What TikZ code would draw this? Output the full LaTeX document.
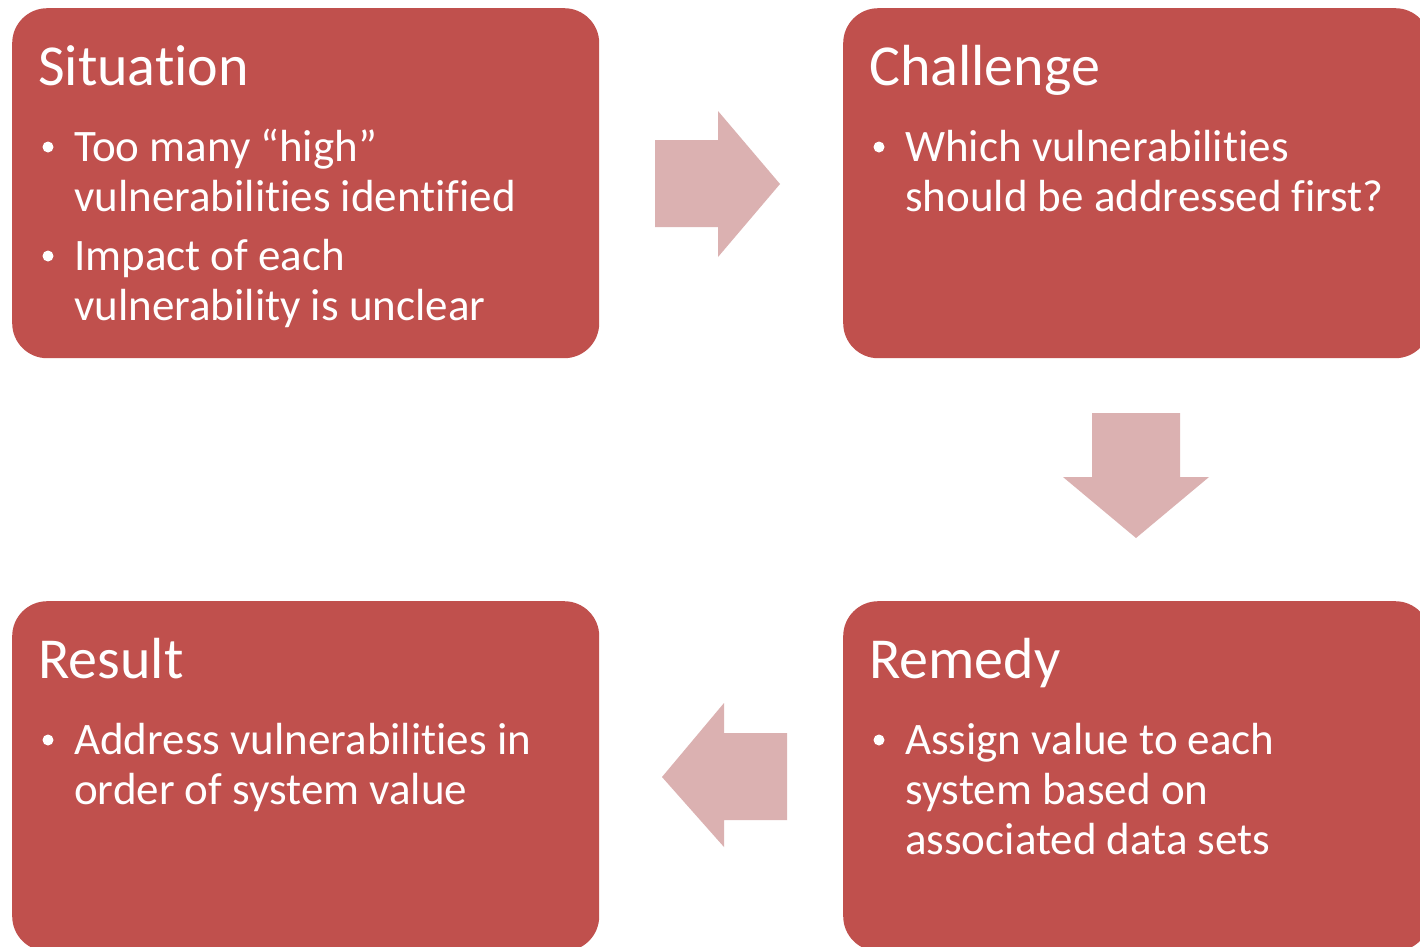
\documentclass[tikz,border=0pt]{standalone}
\usepackage{fontspec}
\setmainfont{Carlito}[Ligatures=NoCommon]

\definecolor{panelred}{HTML}{C0504D}
\definecolor{arrowpink}{RGB}{219,177,177}

\tikzset{
  panel/.style={fill=panelred, rounded corners=35pt, minimum width=587pt,
    minimum height=350pt, inner sep=0pt, anchor=north west},
  heading/.style={text=white, font=\fontsize{58}{70}\selectfont,
    anchor=base west, inner sep=0pt},
  % base anchor of a multi-line node sits on its last line
  item/.style={text=white, font=\fontsize{45}{50}\selectfont,
    align=left, anchor=base west, inner sep=0pt},
  dot/.style={circle, fill=white, minimum size=11pt, inner sep=0pt},
  blockarrow/.style={fill=arrowpink}
}

\begin{document}
\begin{tikzpicture}[x=1pt, y=-1pt]
    \useasboundingbox [fill=white] (0, 0) rectangle (1420, 946);

    % the four panels
    \node [panel] (situation) at (12, 8) {};
    \node [panel] (challenge) at (843, 8) {};
    \node [panel] (result) at (12, 601) {};
    \node [panel] (remedy) at (843, 601) {};

    % situation
    \node [heading] (sithead) at ([shift={(26, 77)}]situation.north west) {Situation};
    \node [dot] (sitdota) at ([shift={(36, 139)}]situation.north west) {};
    \node [item] (sititema) at ([shift={(62, 203)}]situation.north west)
      {Too many “high”\\vulnerabilities identified};
    \node [dot] (sitdotb) at ([shift={(36, 248)}]situation.north west) {};
    \node [item] (sititemb) at ([shift={(62, 312)}]situation.north west)
      {Impact of each\\vulnerability is unclear};

    % challenge
    \node [heading] (chahead) at ([shift={(26, 77)}]challenge.north west) {Challenge};
    \node [dot] (chadot) at ([shift={(36, 139)}]challenge.north west) {};
    \node [item] (chaitem) at ([shift={(62, 203)}]challenge.north west)
      {Which vulnerabilities\\should be addressed first?};

    % remedy
    \node [heading] (remhead) at ([shift={(26, 77)}]remedy.north west) {Remedy};
    \node [dot] (remdot) at ([shift={(36, 139)}]remedy.north west) {};
    \node [item] (remitem) at ([shift={(62, 253)}]remedy.north west)
      {Assign value to each\\system based on\\associated data sets};

    % result
    \node [heading] (reshead) at ([shift={(26, 77)}]result.north west) {Result};
    \node [dot] (resdot) at ([shift={(36, 139)}]result.north west) {};
    \node [item] (resitem) at ([shift={(62, 203)}]result.north west)
      {Address vulnerabilities in\\order of system value};

    % block arrows
    \fill [blockarrow] (655, 140) -- (718, 140) -- (718, 111) -- (780, 184)
      -- (718, 257) -- (718, 227) -- (655, 227) -- cycle;
    \fill [blockarrow] (1092, 413) -- (1180, 413) -- (1180, 477) -- (1209, 477)
      -- (1136, 538) -- (1063, 477) -- (1092, 477) -- cycle;
    \fill [blockarrow] (787, 733) -- (724, 733) -- (724, 703) -- (662, 777)
      -- (724, 847) -- (724, 820) -- (787, 820) -- cycle;
\end{tikzpicture}
\end{document}
